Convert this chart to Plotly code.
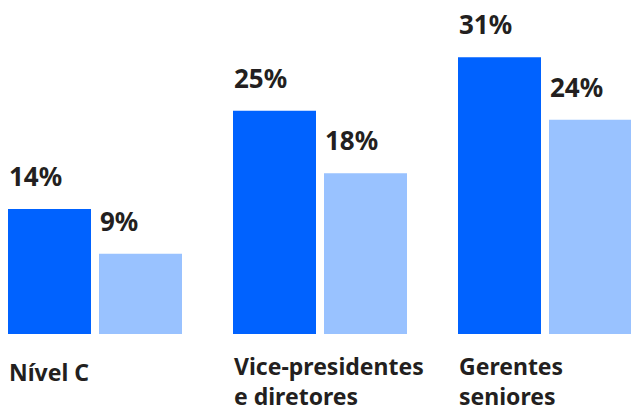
import plotly.graph_objects as go

categories = ["Nível C", "Vice-presidentes<br>e diretores", "Gerentes<br>seniores"]
series_a = [14, 25, 31]
series_b = [9, 18, 24]
labels_a = ["14%", "25%", "31%"]
labels_b = ["9%", "18%", "24%"]

DARK = "#0062ff"
LIGHT = "#99c2ff"
TEXT = "#231f20"
FONT = "Noto Sans"

x_idx = list(range(len(categories)))

fig = go.Figure()
fig.add_bar(x=x_idx, y=series_a, marker=dict(color=DARK, line=dict(width=0)), hoverinfo="skip")
fig.add_bar(x=x_idx, y=series_b, marker=dict(color=LIGHT, line=dict(width=0)), hoverinfo="skip")

annotations = []
for i in x_idx:
    annotations.append(dict(x=i, y=series_a[i], xref="x", yref="y", text=f"<b>{labels_a[i]}</b>",
                            xanchor="left", yanchor="bottom", xshift=-88, yshift=13, showarrow=False,
                            font=dict(family=FONT, size=26, color=TEXT)))
    annotations.append(dict(x=i, y=series_b[i], xref="x", yref="y", text=f"<b>{labels_b[i]}</b>",
                            xanchor="left", yanchor="bottom", xshift=3, yshift=13, showarrow=False,
                            font=dict(family=FONT, size=26, color=TEXT)))
    multi = "<br>" in categories[i]
    annotations.append(dict(x=i, y=0, xref="x", yref="paper", text=f"<b>{categories[i]}</b>",
                            xanchor="left", yanchor="top", xshift=-88,
                            yshift=-14 if multi else -20, showarrow=False,
                            align="left", font=dict(family=FONT, size=23, color=TEXT)))

fig.update_layout(
    width=631, height=407,
    margin=dict(l=0, r=0, t=0, b=73),
    paper_bgcolor="white", plot_bgcolor="white",
    barmode="group", bargap=43/225, bargroupgap=8/91,
    showlegend=False,
    xaxis=dict(range=[-95/225, 536/225], visible=False, fixedrange=True),
    yaxis=dict(range=[0, 37.4], visible=False, fixedrange=True),
    annotations=annotations,
)

fig.write_html("out.html", config={"displayModeBar": False})
